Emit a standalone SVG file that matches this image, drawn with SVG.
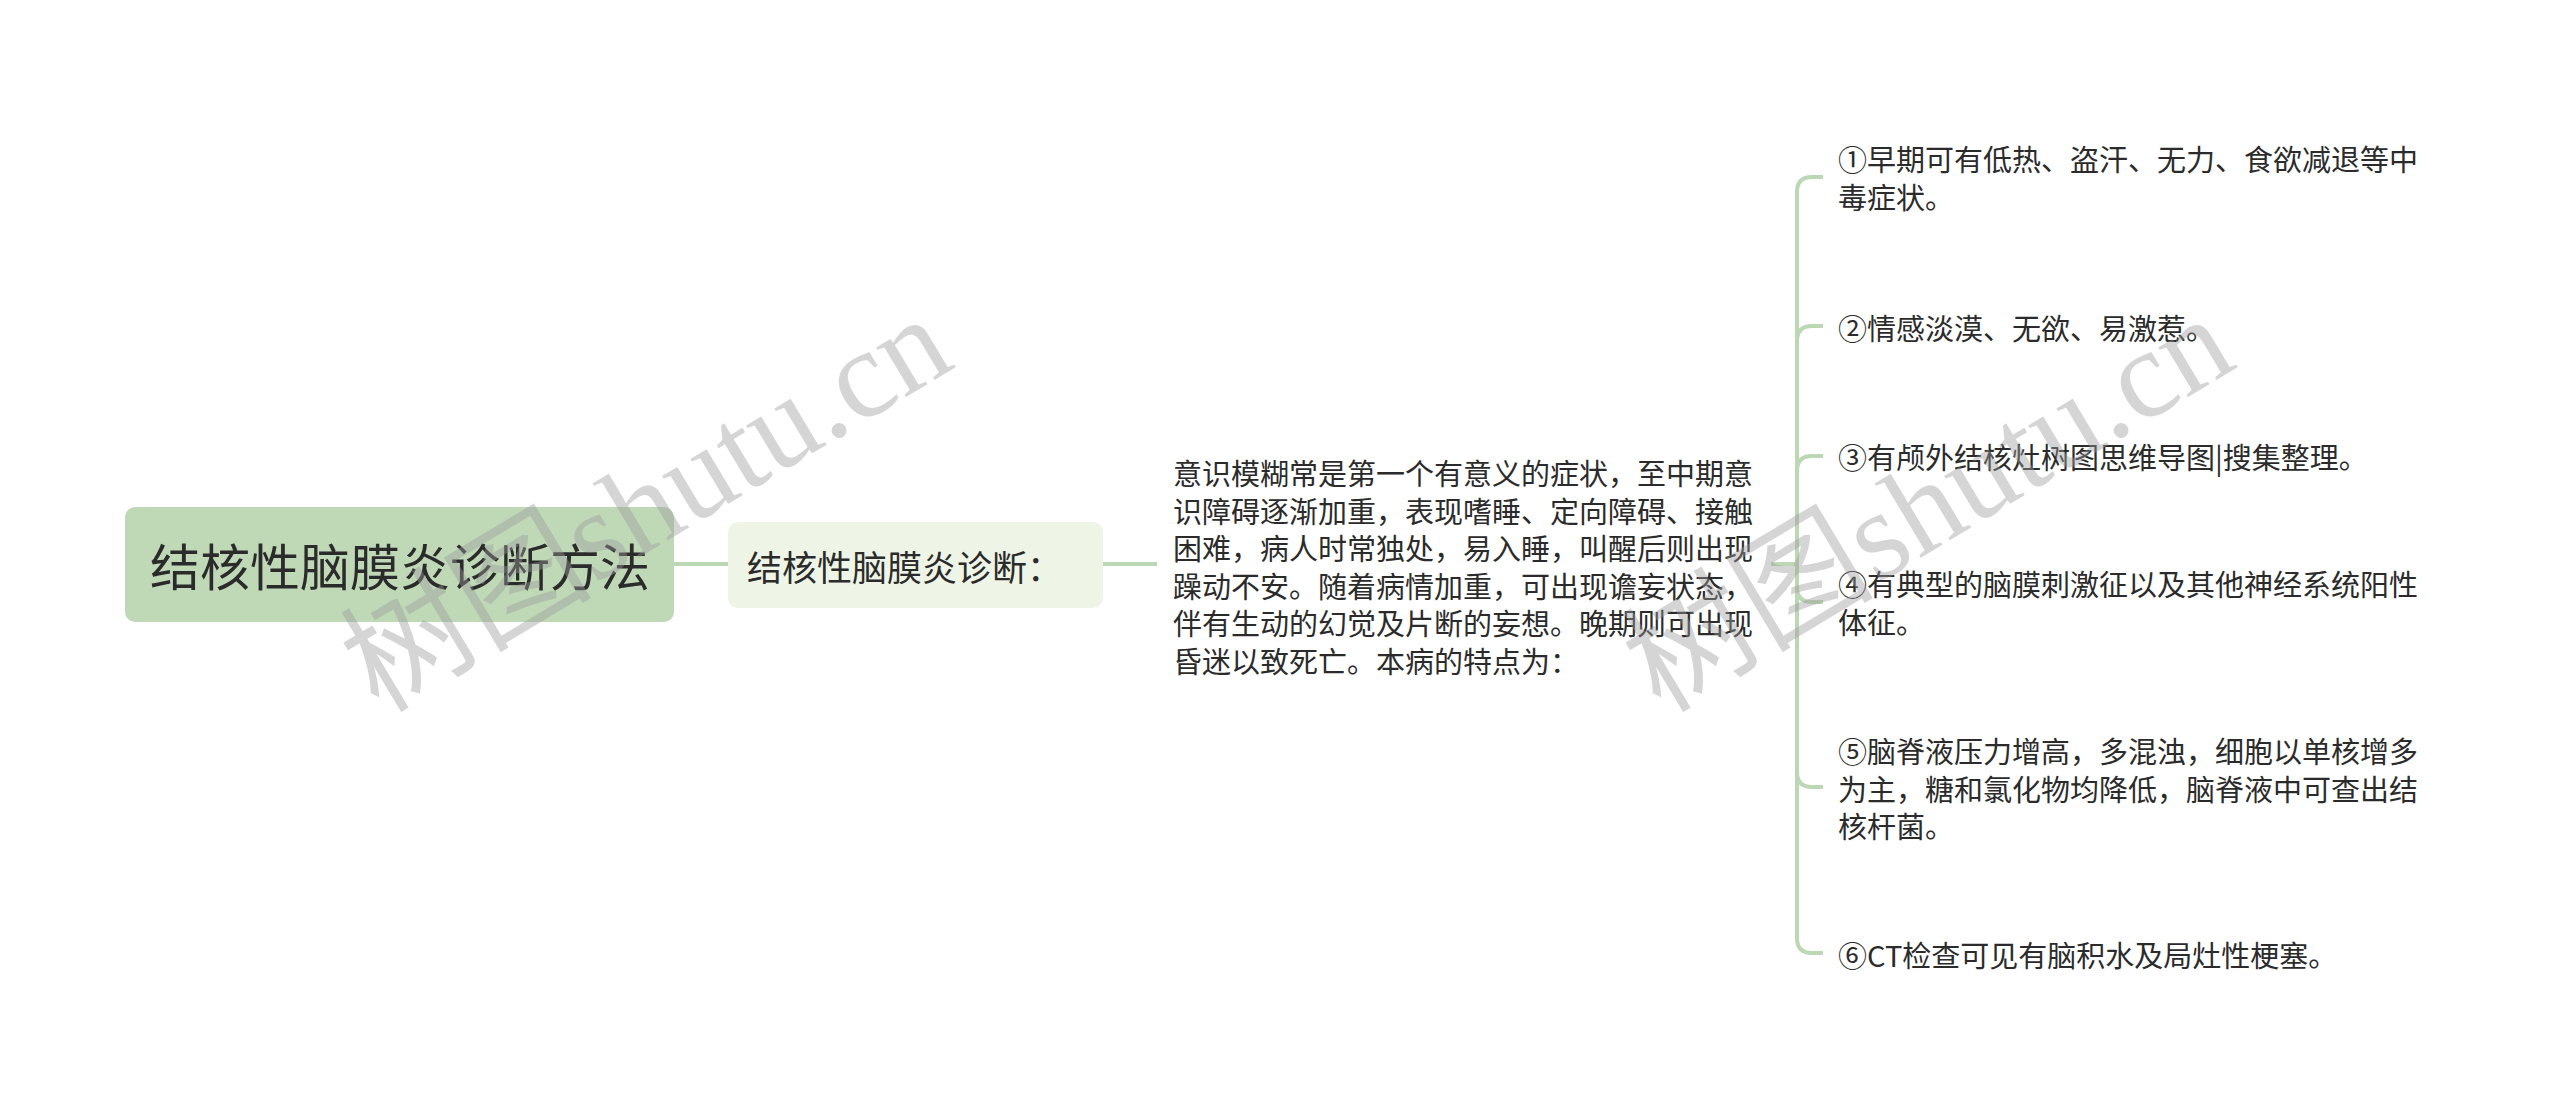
<svg xmlns="http://www.w3.org/2000/svg" width="2560" height="1111" viewBox="0 0 2560 1111">
<style>
.t{font-family:"Noto Sans CJK SC","Noto Sans",sans-serif;fill:#2b2b2b;dominant-baseline:central}
.conn{fill:none;stroke:#bcd7b3;stroke-width:4;stroke-linecap:butt}
.wm{font-family:"Liberation Serif","Noto Sans CJK SC",serif;fill:#9a9a9a;fill-opacity:0.42}
</style>
<rect width="2560" height="1111" fill="#ffffff"/>
<g id="connectors">
<path class="conn" d="M674,564 H728"/>
<path class="conn" d="M1103,564 H1157"/>
<path class="conn" d="M1771,564 H1797"/>
<path class="conn" d="M1797,564 V192 Q1797,177 1812,177 H1823"/>
<path class="conn" d="M1797,564 V341 Q1797,326 1812,326 H1823"/>
<path class="conn" d="M1797,564 V471 Q1797,456 1812,456 H1823"/>
<path class="conn" d="M1797,564 V587 Q1797,602 1812,602 H1823"/>
<path class="conn" d="M1797,564 V772 Q1797,787 1812,787 H1823"/>
<path class="conn" d="M1797,564 V938 Q1797,953 1812,953 H1823"/>
</g>
<g id="root">
<rect x="125" y="507" width="549" height="115" rx="10" fill="#bfd9b7"/>
<text class="t" x="150" y="564" font-size="50">结核性脑膜炎诊断方法</text>
</g>
<g id="child">
<rect x="728" y="522" width="375" height="86" rx="10" fill="#eef5e6"/>
<text class="t" x="747" y="565" font-size="35">结核性脑膜炎诊断：</text>
</g>
<g id="desc">
<text class="t" font-size="29" x="1173">
<tspan x="1173" y="472">意识模糊常是第一个有意义的症状，至中期意</tspan>
<tspan x="1173" y="509.5">识障碍逐渐加重，表现嗜睡、定向障碍、接触</tspan>
<tspan x="1173" y="547">困难，病人时常独处，易入睡，叫醒后则出现</tspan>
<tspan x="1173" y="584.5">躁动不安。随着病情加重，可出现谵妄状态，</tspan>
<tspan x="1173" y="622">伴有生动的幻觉及片断的妄想。晚期则可出现</tspan>
<tspan x="1173" y="659.5">昏迷以致死亡。本病的特点为：</tspan>
</text>
</g>
<g id="item1">
<text class="t" font-size="29"><tspan x="1838" y="158">①早期可有低热、盗汗、无力、食欲减退等中</tspan><tspan x="1838" y="196">毒症状。</tspan></text>
</g>
<g id="item2">
<text class="t" font-size="29" x="1838" y="327">②情感淡漠、无欲、易激惹。</text>
</g>
<g id="item3">
<text class="t" font-size="29" x="1838" y="456">③有颅外结核灶树图思维导图|搜集整理。</text>
</g>
<g id="item4">
<text class="t" font-size="29"><tspan x="1838" y="583">④有典型的脑膜刺激征以及其他神经系统阳性</tspan><tspan x="1838" y="621">体征。</tspan></text>
</g>
<g id="item5">
<text class="t" font-size="29"><tspan x="1838" y="750">⑤脑脊液压力增高，多混浊，细胞以单核增多</tspan><tspan x="1838" y="787.5">为主，糖和氯化物均降低，脑脊液中可查出结</tspan><tspan x="1838" y="825">核杆菌。</tspan></text>
</g>
<g id="item6">
<text class="t" font-size="29" x="1838" y="954">⑥CT检查可见有脑积水及局灶性梗塞。</text>
</g>
<g id="watermarks">
<text class="wm" font-size="126" text-anchor="middle" transform="translate(668,540) rotate(-31)">树图shutu.cn</text>
<text class="wm" font-size="126" text-anchor="middle" transform="translate(1950,540) rotate(-31)">树图shutu.cn</text>
</g>
</svg>
